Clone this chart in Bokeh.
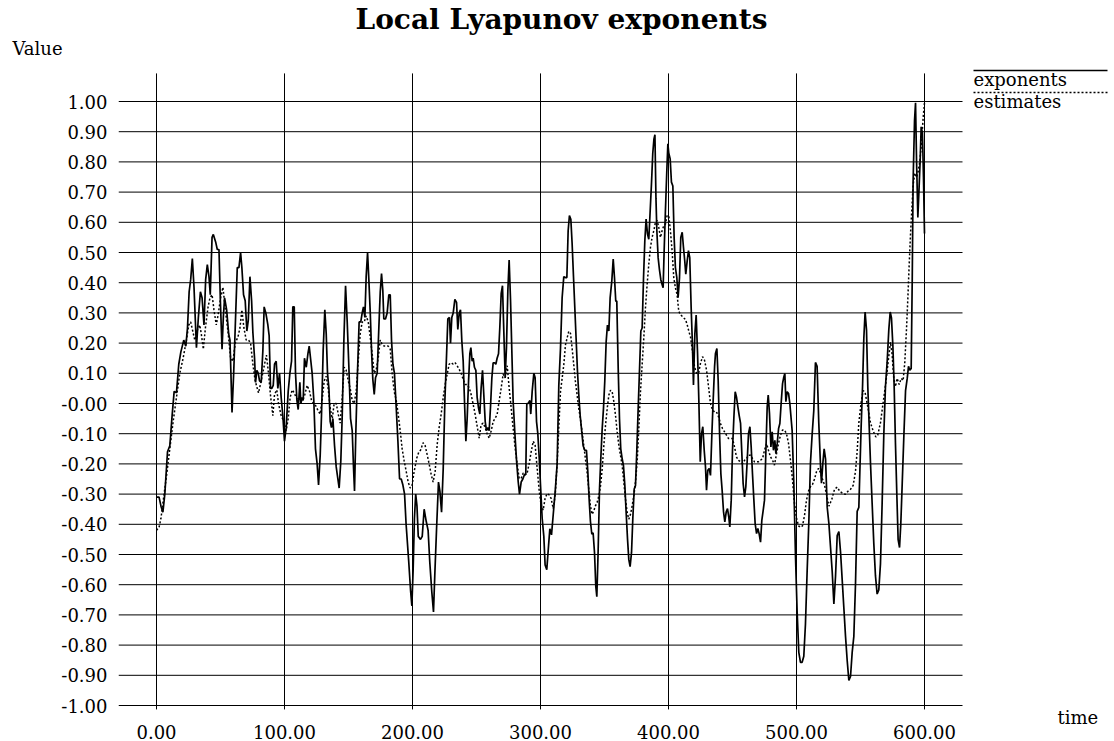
from bokeh.plotting import figure
from bokeh.models import Range1d, FixedTicker, CustomJSTickFormatter, Label, Arrow, Title
from bokeh.embed import file_html
from bokeh.resources import INLINE

# ---------------- data ----------------
x_ticks = [0, 100, 200, 300, 400, 500, 600]
x_tick_labels = ["0.00", "100.00", "200.00", "300.00", "400.00", "500.00", "600.00"]
y_ticks = [-1.0, -0.9, -0.8, -0.7, -0.6, -0.5, -0.4, -0.3, -0.2, -0.1, 0.0,
           0.1, 0.2, 0.3, 0.4, 0.5, 0.6, 0.7, 0.8, 0.9, 1.0]
y_tick_labels = ["-1.00", "-0.90", "-0.80", "-0.70", "-0.60", "-0.50", "-0.40", "-0.30",
                 "-0.20", "-0.10", "-0.00", "0.10", "0.20", "0.30", "0.40", "0.50",
                 "0.60", "0.70", "0.80", "0.90", "1.00"]

exp_t = [0, 2, 3.5, 5, 6.5, 8.6, 10.4, 12.2, 13.8, 15.6, 17.4, 19, 21.3, 22.9, 24.2, 25.5, 26.7, 28, 29.3, 31.2,
         32.7, 34.3, 35.6, 37.1, 38.4, 39.7, 41, 42, 43.4, 44.4, 46.2, 47.5, 48.8, 49.9, 51.2, 52.2, 53.2, 54.8, 56.4, 57.4,
         59, 60.3, 61.5, 63.1, 64.4, 65.7, 66.7, 68, 69.3, 70.6, 71.7, 73, 74.3, 75.3, 76.6, 77.4, 78.4, 79.5, 80.5, 81.8,
         83.1, 84.1, 85.4, 87, 88, 89.1, 90.1, 91.2, 92.2, 93.5, 94.8, 96.1, 97.4, 98.7, 100, 101.3, 102.9, 104.2, 105.5, 106.5,
         107.6, 108.6, 109.7, 110.7, 112, 112.8, 113.8, 114.6, 115.6, 117, 118.3, 119.3, 120.6, 121.6, 122.9, 124.2, 125.5, 126.6, 127.9, 128.9,
         130.2, 131.5, 132.6, 133.6, 134.7, 135.7, 136.7, 137.8, 139.1, 140.4, 141.7, 142.7, 144, 145.1, 146.4, 147.7, 149, 150.3, 151.6, 152.9,
         153.9, 154.7, 155.7, 157, 158.3, 159.6, 160.7, 161.7, 162.8, 163.8, 164.9, 165.9, 167, 168, 169, 170.1, 171.1, 172.4, 173.7, 174.8,
         175.8, 176.8, 177.6, 178.9, 180.2, 181.5, 182.6, 183.6, 184.7, 185.9, 187.3, 188.6, 189.9, 191.2, 192.5, 193.8, 195, 197, 198.5, 199.5,
         200.5, 201.5, 202.5, 203.5, 204.5, 206.25, 207.6, 209.1, 210.7, 212.2, 213.5, 215.1, 216.4, 217.4, 218.8, 220.3, 221.4, 222.7, 224, 225.3,
         226.6, 227.6, 228.9, 229.7, 230.7, 231.8, 233.1, 234.4, 235.4, 236.5, 237.5, 238.5, 239.6, 240.6, 241.7, 242.7, 243.8, 244.8, 245.6, 246.6,
         247.4, 248.4, 249.5, 250.5, 251.6, 252.6, 253.6, 254.7, 255.7, 256.8, 257.8, 258.9, 259.9, 260.9, 262, 263, 264.1, 265.1, 266.1, 267.2,
         268.2, 269.3, 270.3, 271.4, 272.4, 273.4, 274.5, 275.5, 276.6, 277.6, 278.6, 280, 281.3, 282.6, 283.6, 284.9, 286.2, 287.5, 288.5, 289.3,
         290.4, 291.7, 292.4, 293.5, 294.8, 295.8, 296.9, 297.9, 299, 300, 301.3, 302.6, 303.6, 304.9, 306.3, 307.3, 308.6, 309.9, 311.5, 313,
         314.3, 315.6, 316.9, 318.2, 319.5, 320.6, 321.6, 322.6, 323.7, 324.7, 325.8, 326.8, 327.8, 328.9, 329.9, 331, 332, 333.3, 334.6, 335.9,
         337, 338, 339, 340.1, 341.1, 342.2, 343.2, 344, 345, 346.1, 347.1, 348.2, 349.2, 350.2, 351.3, 352.3, 353.4, 354.4, 355.7, 356.8,
         357.8, 358.8, 359.6, 360.7, 361.7, 362.7, 363.8, 364.8, 365.9, 366.9, 368, 369, 370, 371.1, 372.1, 373.2, 374.2, 375.2, 376.3, 377.3,
         378.4, 379.4, 380.5, 381.5, 382.5, 383.6, 384.6, 385.7, 386.7, 387.7, 388.6, 389.4, 390.2, 390.9, 391.9, 392.9, 394, 395, 395.8, 396.6,
         397.6, 398.7, 399.5, 400.2, 401.3, 402.3, 403.4, 404.4, 405.4, 406.5, 407.5, 408.6, 409.6, 410.7, 411.7, 412.7, 413.5, 414.6, 415.6, 416.6,
         417.7, 418.7, 419.5, 420.6, 421.6, 422.7, 423.7, 424.8, 425.8, 426.8, 427.9, 428.9, 429.7, 430.7, 431.8, 432.8, 433.9, 434.9, 436, 436.7,
         437.8, 438.8, 439.9, 440.9, 441.9, 443, 444, 445.1, 446.1, 447.1, 447.9, 449, 450, 451.1, 452.1, 453.1, 454.2, 455.2, 456.3, 457.3,
         458.3, 459.4, 460.4, 461.5, 462.5, 463.6, 464.6, 465.6, 466.7, 467.7, 468.8, 469.8, 470.8, 471.9, 472.9, 474, 475, 476.1, 477.1, 477.9,
         478.9, 480, 481, 482, 483.1, 483.9, 484.9, 486, 487, 488, 489.1, 490.1, 490.9, 491.7, 492.7, 493.8, 494.8, 496.6, 497.9, 499.2,
         500.5, 501.8, 503.1, 504.4, 505.7, 507, 508.3, 509.6, 510.9, 512.2, 513.5, 514.8, 516.1, 517.4, 518.8, 519.5, 520.6, 521.6, 522.7, 524,
         525.3, 526.6, 527.9, 529.2, 530.5, 531.8, 533.1, 534.4, 535.7, 537, 538.3, 539.6, 540.9, 542.2, 543.5, 544.8, 546.1, 547.4, 548.7, 549.5,
         550.5, 551.6, 552.6, 553.6, 554.7, 555.7, 556.8, 557.8, 559.1, 560.4, 561.7, 563, 564.3, 565.6, 566.9, 568.2, 569.5, 570.8, 572.1, 573.2,
         574.2, 575.3, 576.3, 577.3, 578.4, 579.4, 580.5, 581.5, 582.6, 583.9, 585.2, 586.5, 587.5, 588.5, 589.6, 590.4, 591.1, 592.2, 593, 593.8,
         594.8, 595.6, 596.6, 597.4, 598.4, 599.2, 600]
exp_v = [-0.31, -0.31, -0.34, -0.36, -0.30, -0.16, -0.14, -0.04, 0.04, 0.036, 0.13, 0.17, 0.21, 0.19, 0.25, 0.37, 0.41, 0.48, 0.385, 0.185,
         0.285, 0.37, 0.35, 0.26, 0.41, 0.46, 0.42, 0.36, 0.55, 0.56, 0.535, 0.51, 0.51, 0.34, 0.18, 0.285, 0.35, 0.31, 0.23, 0.21,
         -0.03, 0.10, 0.25, 0.45, 0.45, 0.50, 0.45, 0.36, 0.34, 0.24, 0.275, 0.42, 0.34, 0.235, 0.15, 0.07, 0.11, 0.10, 0.075, 0.07,
         0.175, 0.32, 0.30, 0.26, 0.225, 0.05, 0.05, 0.06, 0.13, 0.14, 0.05, 0.10, 0.02, -0.04, -0.125, -0.08, 0.04, 0.10, 0.14, 0.32,
         0.32, 0.10, 0.01, -0.02, 0.07, 0.0, 0.02, 0.01, 0.15, 0.12, 0.165, 0.19, 0.14, 0.10, 0.01, -0.15, -0.20, -0.27, -0.17, -0.04,
         0.175, 0.31, 0.23, 0.10, 0.05, -0.06, -0.08, -0.05, -0.14, -0.21, -0.25, -0.28, -0.19, -0.04, 0.21, 0.39, 0.27, 0.12, -0.05, -0.09,
         -0.21, -0.29, -0.10, 0.10, 0.27, 0.27, 0.30, 0.32, 0.285, 0.42, 0.50, 0.41, 0.30, 0.175, 0.08, 0.03, 0.085, 0.10, 0.25, 0.37,
         0.43, 0.375, 0.28, 0.28, 0.30, 0.36, 0.36, 0.21, 0.13, 0.10, -0.015, -0.125, -0.25, -0.25, -0.27, -0.30, -0.40, -0.52, -0.62, -0.67,
         -0.55, -0.38, -0.30, -0.34, -0.44, -0.45, -0.44, -0.35, -0.39, -0.42, -0.525, -0.625, -0.69, -0.57, -0.415, -0.26, -0.29, -0.36, -0.215, 0.01,
         0.16, 0.28, 0.285, 0.20, 0.285, 0.30, 0.345, 0.335, 0.245, 0.30, 0.31, 0.21, 0.14, 0.01, -0.125, -0.05, 0.075, 0.165, 0.185, 0.14,
         0.15, 0.12, 0.11, 0.02, -0.015, -0.035, 0.05, 0.11, 0.03, -0.06, -0.09, -0.08, -0.09, -0.015, 0.085, 0.135, 0.135, 0.13, 0.15, 0.165,
         0.25, 0.365, 0.39, 0.23, 0.085, 0.185, 0.375, 0.475, 0.34, 0.175, 0.01, -0.10, -0.19, -0.26, -0.30, -0.26, -0.25, -0.235, -0.235, 0.0,
         0.0, 0.01, -0.035, 0.04, 0.10, 0.085, -0.06, -0.10, -0.18, -0.27, -0.38, -0.44, -0.535, -0.55, -0.47, -0.415, -0.435, -0.37, -0.29, -0.20,
         0.06, 0.18, 0.35, 0.42, 0.417, 0.417, 0.572, 0.622, 0.61, 0.53, 0.417, 0.317, 0.217, 0.105, 0.03, -0.04, -0.083, -0.14, -0.155, -0.155,
         -0.228, -0.317, -0.39, -0.433, -0.428, -0.494, -0.606, -0.64, -0.494, -0.283, -0.183, -0.083, -0.017, 0.072, 0.205, 0.26, 0.24, 0.35, 0.405, 0.478,
         0.417, 0.339, 0.339, 0.117, -0.05, -0.15, -0.183, -0.205, -0.272, -0.36, -0.45, -0.517, -0.54, -0.494, -0.383, -0.283, -0.272, -0.161, -0.017, 0.105,
         0.24, 0.25, 0.417, 0.539, 0.611, 0.561, 0.544, 0.639, 0.728, 0.828, 0.875, 0.89, 0.68, 0.572, 0.483, 0.444, 0.41, 0.394, 0.383, 0.506,
         0.639, 0.772, 0.86, 0.83, 0.81, 0.733, 0.72, 0.55, 0.45, 0.417, 0.35, 0.417, 0.55, 0.567, 0.517, 0.472, 0.428, 0.472, 0.506, 0.483,
         0.317, 0.194, 0.061, 0.232, 0.293, 0.166, 0.011, -0.193, -0.1, -0.077, -0.155, -0.21, -0.287, -0.221, -0.215, -0.238, -0.1, 0.011, 0.122, 0.166,
         0.182, 0.077, -0.1, -0.232, -0.287, -0.359, -0.392, -0.359, -0.348, -0.376, -0.409, -0.32, -0.155, -0.044, 0.039, 0.022, -0.011, -0.039, -0.066, -0.166,
         -0.265, -0.309, -0.276, -0.188, -0.1, -0.077, -0.144, -0.232, -0.32, -0.398, -0.431, -0.414, -0.431, -0.459, -0.387, -0.353, -0.32, -0.155, -0.011, 0.028,
         -0.033, -0.144, -0.094, -0.155, -0.122, -0.166, -0.133, -0.083, -0.066, 0.0, 0.066, 0.088, 0.099, 0.006, 0.039, 0.033, 0.0, -0.09, -0.264, -0.504,
         -0.69, -0.824, -0.857, -0.857, -0.837, -0.73, -0.557, -0.397, -0.197, -0.104, -0.024, 0.136, 0.123, -0.064, -0.21, -0.264, -0.197, -0.15, -0.184, -0.344,
         -0.397, -0.477, -0.557, -0.664, -0.571, -0.437, -0.424, -0.491, -0.584, -0.677, -0.771, -0.851, -0.917, -0.904, -0.824, -0.771, -0.597, -0.357, -0.344, -0.224,
         -0.077, 0.056, 0.216, 0.303, 0.243, 0.056, -0.077, -0.197, -0.331, -0.464, -0.571, -0.631, -0.617, -0.531, -0.331, -0.104, 0.056, 0.136, 0.243, 0.303,
         0.283, 0.19, 0.056, -0.13, -0.304, -0.451, -0.477, -0.397, -0.264, -0.104, 0.043, 0.083, 0.123, 0.11, 0.116, 0.403, 0.736, 0.936, 0.996, 0.803,
         0.616, 0.696, 0.803, 0.916, 0.896, 0.749, 0.563]

est_t = [0, 2, 3.5, 5, 7.8, 10.4, 13, 15.6, 18.2, 20.8, 23.4, 25.2, 26.7, 28.3, 29.9, 31.7, 33.8, 35, 36.6, 38.2,
         40.3, 41.8, 43.4, 44.9, 46.7, 48, 50.1, 51.9, 53.8, 55.8, 57.9, 59.7, 61.5, 63.6, 65.2, 66.7, 68.3, 70.1, 71.9, 73.5,
         75.3, 77.1, 79.7, 81.8, 84.4, 85.9, 87.5, 89.1, 90.9, 92.2, 94, 95.3, 97.4, 99.5, 101.3, 102.9, 104.4, 106, 107.6, 109.1,
         110.7, 112.5, 114.3, 115.9, 117.7, 119.6, 121.1, 122.9, 124.8, 126.3, 127.9, 129.4, 131, 132.6, 134.1, 135.7, 137.3, 138.8, 140.4, 142,
         143.5, 145.1, 146.6, 148.2, 149.8, 151.3, 152.9, 154.4, 156, 157.6, 159.1, 160.7, 162.3, 163.8, 165.4, 167, 168.5, 170.1, 171.6, 173.2,
         174.8, 176.3, 177.9, 179.4, 181, 182.6, 184.1, 185.7, 187.3, 188.8, 190.4, 191.9, 193.5, 195.1, 196.6, 198.2, 199.7, 201.3, 203.4, 205,
         206.25, 208.3, 209.9, 211.5, 213, 214.6, 216.1, 217.7, 219.3, 220.8, 222.4, 224, 225.5, 227.1, 228.6, 230.2, 231.8, 233.3, 234.9, 236.5,
         238, 239.6, 241.1, 242.7, 244.3, 245.8, 247.4, 249, 250.5, 252.1, 253.6, 255.2, 256.8, 258.3, 259.9, 261.5, 263, 264.6, 266.1, 267.7,
         269.3, 270.8, 272.4, 274, 275.5, 277.1, 278.6, 280.2, 281.8, 283.3, 284.9, 286.5, 288, 289.6, 291.1, 292.7, 294.3, 295.8, 297.4, 299,
         300.5, 302.1, 303.6, 305.2, 306.8, 308.3, 309.9, 311.5, 313, 314.3, 315.6, 316.9, 318.2, 319.5, 320.8, 322.1, 323.4, 324.7, 326, 327.3,
         328.6, 329.9, 331.2, 332.5, 333.8, 335.1, 336.4, 337.7, 339, 340.3, 341.6, 342.9, 344.2, 345.6, 346.9, 348.2, 349.5, 350.8, 352.1, 353.4,
         354.7, 356, 357.3, 358.6, 359.9, 361.2, 362.5, 363.8, 365.1, 366.4, 367.7, 369, 370.3, 371.6, 372.9, 374.2, 375.5, 376.8, 378.1, 379.4,
         380.7, 382, 383.3, 384.6, 385.9, 387.2, 388.5, 389.8, 391.1, 392.4, 393.7, 395, 396.3, 397.6, 398.9, 400.2, 401.5, 402.8, 404.1, 405.4,
         406.7, 408, 409.3, 410.7, 412, 413.3, 414.6, 415.9, 417.2, 418.5, 420.3, 421.9, 423.5, 425, 426.6, 428.1, 429.7, 431.3, 432.8, 434.4,
         436, 437.5, 439.1, 440.6, 442.2, 443.8, 445.3, 446.9, 448.4, 450, 451.6, 453.1, 454.7, 456.3, 457.8, 459.4, 461, 462.5, 464.1, 465.6,
         467.2, 468.8, 470.3, 471.9, 473.5, 475, 476.6, 478.1, 479.7, 481.3, 482.8, 484.4, 485.9, 487.5, 489.1, 490.6, 492.2, 493.8, 495.3, 496.9,
         498.4, 500, 501.6, 503.1, 504.7, 506.3, 507.8, 509.4, 511, 512.5, 514.1, 515.6, 517.2, 518.8, 520.3, 521.9, 523.4, 525.3, 527.6, 529.7,
         531.8, 533.9, 535.9, 538, 540.1, 542.2, 544.3, 546.1, 547.4, 548.7, 550.5, 552.1, 553.6, 555.7, 557.8, 559.9, 562, 563.5, 565.6, 567.7,
         569.8, 571.9, 573.4, 574.7, 576, 577.3, 578.6, 580.2, 581.8, 583.3, 584.6, 585.9, 587, 588, 589.1, 590.1, 591.1, 592.4, 593.8, 595.1,
         596.4, 597.7, 599, 600]
est_v = [-0.42, -0.41, -0.38, -0.33, -0.24, -0.15, -0.06, 0.02, 0.10, 0.15, 0.21, 0.26, 0.27, 0.24, 0.21, 0.24, 0.26, 0.23, 0.18, 0.25,
         0.32, 0.35, 0.36, 0.31, 0.26, 0.29, 0.35, 0.385, 0.31, 0.24, 0.15, 0.14, 0.20, 0.22, 0.25, 0.31, 0.25, 0.21, 0.21, 0.20,
         0.13, 0.075, 0.035, 0.075, 0.13, 0.16, 0.10, 0.025, -0.04, 0.03, 0.045, 0.0, -0.04, -0.06, -0.09, -0.05, 0.02, 0.045, 0.035, 0.02,
         0.01, 0.02, 0.01, 0.03, 0.06, 0.04, 0.01, 0.0, -0.01, -0.025, -0.035, 0.01, 0.075, 0.09, 0.05, -0.015, -0.05, 0.0, 0.0, -0.035,
         -0.065, 0.02, 0.12, 0.11, 0.075, 0.05, 0.01, 0.0, 0.04, 0.14, 0.23, 0.27, 0.27, 0.29, 0.27, 0.22, 0.165, 0.10, 0.11, 0.15,
         0.21, 0.195, 0.19, 0.19, 0.19, 0.18, 0.10, 0.04, 0.01, -0.035, -0.09, -0.15, -0.19, -0.225, -0.26, -0.28, -0.27, -0.225, -0.18, -0.16,
         -0.155, -0.13, -0.14, -0.17, -0.20, -0.235, -0.26, -0.225, -0.135, -0.08, -0.035, 0.02, 0.063, 0.097, 0.13, 0.135, 0.13, 0.135, 0.125, 0.113,
         0.10, 0.08, 0.063, 0.063, 0.052, 0.03, -0.003, -0.037, -0.075, -0.115, -0.07, -0.065, -0.08, -0.10, -0.115, -0.09, -0.06, -0.048, -0.037, 0.008,
         0.052, 0.097, 0.085, 0.125, 0.052, -0.015, -0.08, -0.148, -0.20, -0.248, -0.248, -0.23, -0.237, -0.23, -0.20, -0.16, -0.125, -0.137, -0.215, -0.29,
         -0.337, -0.353, -0.314, -0.298, -0.303, -0.314, -0.348, -0.303, -0.2, -0.08, 0.039, 0.083, 0.128, 0.194, 0.217, 0.239, 0.233, 0.183, 0.128, 0.072,
         0.028, -0.017, -0.05, -0.094, -0.139, -0.183, -0.228, -0.283, -0.339, -0.367, -0.356, -0.339, -0.328, -0.306, -0.272, -0.217, -0.139, -0.072, -0.017, 0.028,
         0.044, 0.039, 0.006, -0.039, -0.094, -0.139, -0.172, -0.205, -0.261, -0.317, -0.361, -0.383, -0.367, -0.339, -0.306, -0.261, -0.194, -0.083, 0.039, 0.128,
         0.217, 0.317, 0.394, 0.461, 0.517, 0.55, 0.572, 0.6, 0.606, 0.583, 0.55, 0.572, 0.589, 0.594, 0.622, 0.622, 0.572, 0.506, 0.417, 0.383,
         0.361, 0.306, 0.294, 0.289, 0.283, 0.278, 0.261, 0.239, 0.22, 0.18, 0.122, 0.1, 0.1, 0.133, 0.155, 0.144, 0.111, 0.055, 0.0, -0.022,
         -0.028, -0.028, -0.044, -0.066, -0.083, -0.094, -0.105, -0.116, -0.116, -0.116, -0.144, -0.177, -0.188, -0.193, -0.199, -0.188, -0.182, -0.171, -0.171, -0.182,
         -0.193, -0.193, -0.193, -0.188, -0.182, -0.155, -0.133, -0.155, -0.177, -0.188, -0.204, -0.166, -0.133, -0.105, -0.088, -0.088, -0.1, -0.133, -0.188, -0.254,
         -0.33, -0.38, -0.405, -0.41, -0.405, -0.37, -0.32, -0.29, -0.275, -0.268, -0.25, -0.226, -0.215, -0.23, -0.25, -0.27, -0.3, -0.34, -0.317, -0.284,
         -0.277, -0.291, -0.297, -0.301, -0.291, -0.284, -0.271, -0.224, -0.157, -0.064, 0.003, 0.043, 0.036, -0.011, -0.064, -0.091, -0.111, -0.104, -0.064, 0.003,
         0.069, 0.149, 0.203, 0.163, 0.083, 0.056, 0.083, 0.063, 0.083, 0.076, 0.136, 0.243, 0.349, 0.456, 0.563, 0.643, 0.723, 0.763, 0.749, 0.769,
         0.803, 0.869, 0.949, 0.996]

series_names = ["exponents", "estimates"]
title_text = "Local Lyapunov exponents"
y_title = "Value"
x_title = "time"

# ---------------- layout constants (pixels / grid extents) ----------------
SERIF = "DejaVu Serif"
W, H = 1114, 741
BL, BR, BT, BB = 118, 0, 58, 16
PX_PER_T = 1.28          # horizontal scale
PX_PER_V = 302.0         # vertical scale
T0_PX, V0_PX = 156, 403  # canvas position of t=0 / v=0
GRID_T = (-29.69, 629.69)   # horizontal extent of the grid
GRID_V = (-1.013, 1.093)    # vertical extent of the grid

x_start = (BL - T0_PX) / PX_PER_T
x_end = (W - BR - T0_PX) / PX_PER_T
y_start = (V0_PX - (H - BB)) / PX_PER_V
y_end = (V0_PX - BT) / PX_PER_V

p = figure(width=W, height=H, output_backend="svg", toolbar_location=None, title=None,
           x_range=Range1d(x_start, x_end), y_range=Range1d(y_start, y_end),
           min_border_left=BL, min_border_right=BR, min_border_top=BT, min_border_bottom=BB)
p.outline_line_color = None
p.background_fill_color = "white"
p.border_fill_color = "white"
p.xgrid.visible = False
p.ygrid.visible = False

fmt_code = """
let best = 0;
for (let i = 0; i < tvals.length; i++) {
  if (Math.abs(tvals[i] - tick) < Math.abs(tvals[best] - tick)) { best = i; }
}
return tlabels[best];
"""
p.xaxis.ticker = FixedTicker(ticks=x_ticks)
p.xaxis.formatter = CustomJSTickFormatter(args=dict(tvals=x_ticks, tlabels=x_tick_labels), code=fmt_code)
p.yaxis.ticker = FixedTicker(ticks=y_ticks)
p.yaxis.formatter = CustomJSTickFormatter(args=dict(tvals=y_ticks, tlabels=y_tick_labels), code=fmt_code)

for ax in (p.xaxis, p.yaxis):
    ax.axis_line_color = None
    ax.major_tick_line_color = None
    ax.minor_tick_line_color = None
    ax.major_tick_out = 0
    ax.major_tick_in = 0
    ax.major_label_text_font = SERIF
    ax.major_label_text_font_size = "18px"
    ax.major_label_text_color = "black"
p.yaxis.major_label_standoff = 11
p.xaxis.major_label_standoff = -1

# grid lines (limited to the grid box, as in the reference)
p.segment(x0=x_ticks, x1=x_ticks, y0=[GRID_V[0]] * len(x_ticks), y1=[GRID_V[1]] * len(x_ticks),
          line_color="black", line_width=1)
p.segment(x0=[GRID_T[0]] * len(y_ticks), x1=[GRID_T[1]] * len(y_ticks), y0=y_ticks, y1=y_ticks,
          line_color="black", line_width=1)

p.line(exp_t, exp_v, line_color="black", line_width=1.7)
p.line(est_t, est_v, line_color="black", line_width=1.5, line_dash="2 2")

# titles above the frame (first added sits nearest the frame)
p.add_layout(Title(text=y_title, align="left", offset=-106, standoff=0, text_color="black",
                   text_font=SERIF, text_font_size="18px", text_font_style="normal"), "above")
p.add_layout(Title(text=title_text, align="left", offset=237, standoff=0, text_color="black",
                   text_font=SERIF, text_font_size="28px", text_font_style="bold"), "above")

# frame-relative screen positions
FB = H - BB
def lab(text, px, py, size):
    p.add_layout(Label(x=px - BL, y=FB - py, x_units="screen", y_units="screen", text=text,
                       text_font=SERIF, text_font_size=size, text_align="left",
                       text_baseline="middle", text_color="black"))

lab(x_title, 1057, 717, "18px")

# legend: a line above each name
legend_line_y = [70, 92]
legend_text_y = [79, 101]
for name, dash, ly, ty in zip(series_names, ["solid", "2 2"], legend_line_y, legend_text_y):
    p.add_layout(Arrow(x_start=973 - BL, y_start=FB - ly, x_end=1107 - BL, y_end=FB - ly,
                       start_units="screen", end_units="screen", end=None,
                       line_color="black", line_width=1.3, line_dash=dash))
    lab(name, 973, ty, "18px")

open("out.html", "w").write(file_html(p, INLINE))
